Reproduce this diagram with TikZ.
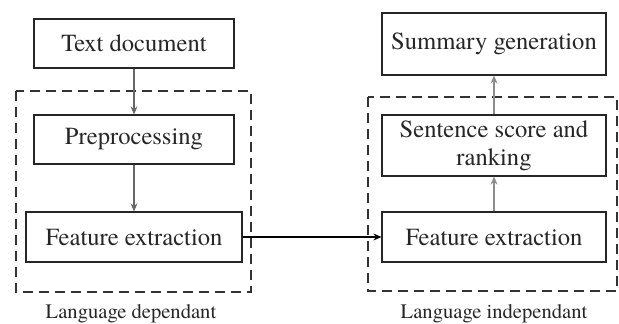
\documentclass[tikz,border=0pt]{standalone}
\usepackage{fontspec}
\setmainfont{texgyretermes-regular.otf}
\usetikzlibrary{arrows.meta}
\begin{document}
\begin{tikzpicture}[x=0.5pt,y=-0.5pt,
  box/.style={draw=black!85, line width=0.6pt, inner sep=0pt, align=center,
    font=\fontsize{12.3}{14}\selectfont, text=black!85},
  grp/.style={draw=black!80, line width=0.6pt, dash pattern=on 5pt off 3pt},
  flow/.style={-{Stealth[length=4pt,width=3.5pt]}, line width=0.6pt},
  lbl/.style={font=\fontsize{10.3}{12}\selectfont, text=black!85, anchor=base}]
\useasboundingbox (0,0) rectangle (619,324);
% groups
\draw[grp] (16,91) rectangle (251,292);
\draw[grp] (368,97) rectangle (617,291);
% left column
\node[box, minimum width=100pt, minimum height=24.5pt] (td) at (134,43.5) {Text document};
\node[box, minimum width=100pt, minimum height=24.5pt] (pp) at (134,139.5) {Preprocessing};
\node[box, minimum width=108pt, minimum height=25pt] (fel) at (134,237) {Feature extraction};
% right column
\node[box, minimum width=112pt, minimum height=31pt] (sg) at (494,44) {Summary generation};
\node[box, minimum width=112pt, minimum height=30.5pt] (ss) at (494,145.5) {Sentence score and\\ranking};
\node[box, minimum width=112pt, minimum height=25pt] (fer) at (494,237) {Feature extraction};
% connectors
\draw[flow, draw=black!60] (td) -- (pp);
\draw[flow, draw=black!60] (pp) -- (fel);
\draw[flow, draw=black] (fel) -- (fer);
\draw[flow, draw=black!45] (fer) -- (ss);
\draw[flow, draw=black!45] (ss) -- (sg);
% labels
\node[lbl] (ld) at (131,318.5) {Language dependant};
\node[lbl] (li) at (494,318.5) {Language independant};
\end{tikzpicture}
\end{document}
